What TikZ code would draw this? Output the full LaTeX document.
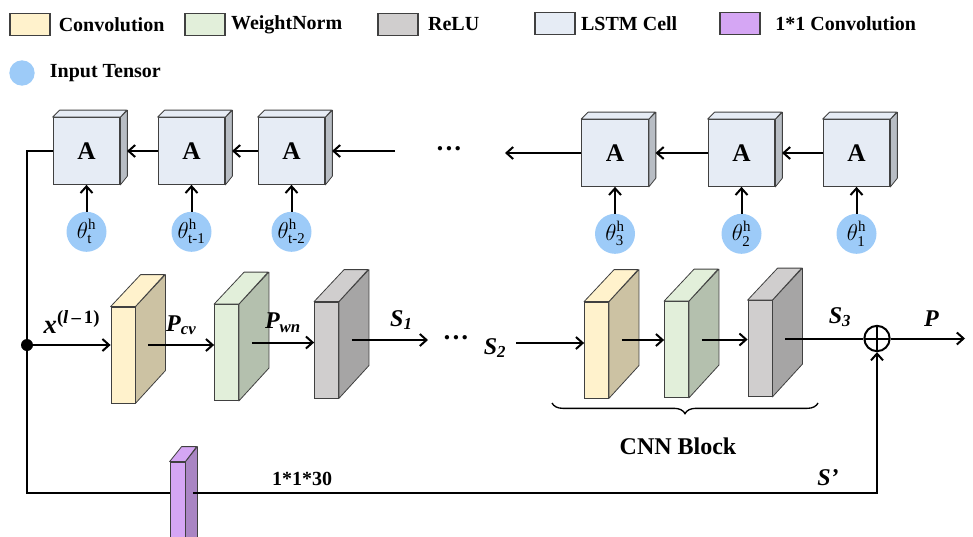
\documentclass[tikz,border=0pt]{standalone}
\usepackage{amsmath}
\usepackage{fontspec}
\setmainfont{Liberation Serif}
\usepackage{xcolor}
\usepackage{tikz}
\usetikzlibrary{arrows.meta, positioning, calc, decorations.pathreplacing}
\definecolor{convF}{HTML}{FFF2CC}
\definecolor{convS}{HTML}{CCC2A3}
\definecolor{wnF}{HTML}{E2EFDA}
\definecolor{wnS}{HTML}{B4C0AE}
\definecolor{reluF}{HTML}{D0CECE}
\definecolor{reluS}{HTML}{A6A5A5}
\definecolor{lstmF}{HTML}{E6ECF5}
\definecolor{lstmS}{HTML}{B8BDC4}
\definecolor{oneF}{HTML}{D5A6F4}
\definecolor{oneS}{HTML}{A985C3}
\definecolor{tensorblue}{HTML}{9DCBF8}
\definecolor{edgegray}{HTML}{404040}
\tikzset{
  legbox/.style={draw=edgegray, thick, minimum width=30pt, minimum height=17pt, inner sep=0pt},
  legtxt/.style={font=\fontsize{15}{17}\selectfont\bfseries, anchor=west, inner sep=0pt},
  lstm/.style={draw=edgegray, thick, fill=lstmF, minimum size=50pt, inner sep=0pt,
               font=\fontsize{19}{20}\selectfont\bfseries},
  tensor/.style={circle, fill=tensorblue, minimum size=30pt, inner sep=0pt,
                 font=\fontsize{16}{18}\selectfont},
  slab/.style={draw=edgegray, semithick, minimum width=18pt, minimum height=72pt, inner sep=0pt},
  face/.style={draw=edgegray, semithick, line join=round},
  line/.style={line width=1.5pt, draw=black},
  arr/.style={line, -{Straight Barb[length=5pt, width=9pt]}},
  lbl/.style={font=\fontsize{18}{20}\selectfont\bfseries\itshape, inner sep=0pt},
  dots/.style={font=\fontsize{20}{22}\selectfont\bfseries, inner sep=0pt},
  sumnode/.style={circle, draw, line width=1.5pt, minimum size=19pt, inner sep=0pt,
    path picture={\draw[line width=1.5pt] (path picture bounding box.north) -- (path picture bounding box.south)
      (path picture bounding box.west) -- (path picture bounding box.east);}},
  brace/.style={decorate, decoration={brace, mirror, amplitude=8pt}, draw=black, line width=1pt},
}
\begin{document}
\begin{tikzpicture}[x=0.75pt, y=-0.75pt]
  \useasboundingbox (0,0) rectangle (973,536);
  \clip (0,0) rectangle (973,536);

  % legend
  \node[legbox, fill=convF] (lgconv) at (30,24.5) {};
  \node[legtxt, right=6pt of lgconv] {Convolution};
  \node[legbox, fill=wnF] (lgwn) at (205,24.5) {};
  \node[legtxt, right=4pt of lgwn] {WeightNorm};
  \node[legbox, fill=reluF] (lgrelu) at (398,24.5) {};
  \node[legtxt, right=7pt of lgrelu] {ReLU};
  \node[legbox, fill=lstmF] (lglstm) at (555,23.5) {};
  \node[legtxt, right=4pt of lglstm] {LSTM Cell};
  \node[legbox, fill=oneF] (lgone) at (740,23.5) {};
  \node[legtxt, right=11pt of lgone] {1*1 Convolution};
  \node[circle, fill=tensorblue, minimum size=19pt, inner sep=0pt] (lgten) at (22,73) {};
  \node[legtxt, right=11pt of lgten] {Input Tensor};

  % LSTM chain
  \foreach \n/\cx/\cy in {a1/86.5/151, a2/191.5/151, a3/291.5/151, a4/615/153, a5/741.5/153, a6/856.5/153}{
    \node[lstm] (\n) at (\cx,\cy) {A};
    \draw[face, fill=lstmS] (\n.north east) -- ++(7,-7) -- ++(0,66) -- (\n.south east) -- cycle;
    \draw[face, fill=lstmF] (\n.north west) -- ++(7,-7) -- ++(67,0) -- (\n.north east) -- cycle;
  }
  \foreach \n/\s in {a1/t, a2/t-1, a3/t-2, a4/3, a5/2, a6/1}{
    \node[tensor, below=20pt of \n] (th\n) {$\theta^{\text{h}}_{\text{\s}}$};
    \draw[arr] (th\n) -- (\n);
  }
  \draw[arr] (a2.west) -- ([xshift=5pt]a1.east);
  \draw[arr] (a3.west) -- ([xshift=5pt]a2.east);
  \coordinate (topR) at (395,151);
  \draw[arr] (topR) -- ([xshift=5pt]a3.east);
  \node[dots] (topdots) at (449,152) {···};
  \coordinate (topL) at (505,153);
  \draw[arr] (a4.west) -- (topL);
  \draw[arr] (a5.west) -- ([xshift=5pt]a4.east);
  \draw[arr] (a6.west) -- ([xshift=5pt]a5.east);

  % CNN slabs
  \foreach \n/\cx/\cy/\fc/\sc in {c1/123/355/convF/convS, w1/226.5/352.5/wnF/wnS, r1/326.5/350/reluF/reluS,
      c2/596.5/350/convF/convS, w2/676.5/349.5/wnF/wnS, r2/760/348.5/reluF/reluS}{
    \node[slab, fill=\fc] (\n) at (\cx,\cy) {};
    \draw[face, fill=\sc] (\n.north east) -- ++(30,-32) -- ++(0,96) -- (\n.south east) -- cycle;
    \draw[face, fill=\fc] (\n.north west) -- ++(30,-32) -- ++(24,0) -- (\n.north east) -- cycle;
    \coordinate (\n o) at ($(\n.east)+(13,-10)$);
  }

  % main path
  \node[circle, fill=black, minimum size=9pt, inner sep=0pt] (split) at (27,345) {};
  \draw[arr] (split) -- (split -| c1.west)
    node[lbl, midway, above=8pt, font=\fontsize{20}{22}\selectfont\bfseries] {\textit{x}\textsuperscript{(\textit{l}\,–\,1)}};
  \draw[arr] (c1o) -- (c1o -| w1.west) node[lbl, midway, above=7pt] {P\textsubscript{cv}};
  \draw[arr] (w1o) -- (w1o -| r1.west) node[lbl, midway, above=7pt] {P\textsubscript{wn}};
  \coordinate (s1end) at (428,345);
  \draw[arr] (r1o) -- (r1o -| s1end) node[lbl, pos=0.65, above=7pt] {S\textsubscript{1}};
  \node[dots] (middots) at (456,341) {···};
  \node[lbl] (s2) at (495,348) {S\textsubscript{2}};
  \coordinate (s2start) at (516,343);
  \draw[arr] (s2start) -- (c2.west |- s2start);
  \draw[arr] (c2o) -- (c2o -| w2.west);
  \draw[arr] (w2o) -- (w2o -| r2.west);
  \node[sumnode] (sum) at (877,338.5) {};
  \draw[line] (r2o) -- (sum.west) node[lbl, pos=0.7, above=8pt] {S\textsubscript{3}};
  \coordinate (out) at (965,338.5);
  \draw[arr] (sum) -- (out) node[lbl, pos=0.55, above=8pt] {P};

  % CNN block brace
  \coordinate (bL) at (552,403);
  \coordinate (bR) at (818,403);
  \draw[brace] (bL) -- (bR);
  \node[font=\fontsize{18}{20}\selectfont\bfseries] (cnnblock) at (678,446) {CNN Block};

  % shortcut with 1*1 convolution
  \node[slab, fill=oneF, minimum width=11.25pt, minimum height=73.5pt] (pconv) at (177.5,511) {};
  \draw[face, fill=oneS] (pconv.north east) -- ++(12,-15) -- ++(0,98) -- (pconv.south east) -- cycle;
  \draw[face, fill=oneF] (pconv.north west) -- ++(12,-15) -- ++(15,0) -- (pconv.north east) -- cycle;
  \coordinate (bl) at (27,493);
  \coordinate (pout) at (193,493);
  \draw[line] (a1.west) -| (bl) -- (bl -| pconv.west);
  \draw[arr] (pout) -| (sum.south);
  \node[font=\fontsize{15}{17}\selectfont\bfseries] (ksize) at (302,479) {1*1*30};
  \node[lbl] (sprime) at (828,478) {S’};
\end{tikzpicture}
\end{document}
